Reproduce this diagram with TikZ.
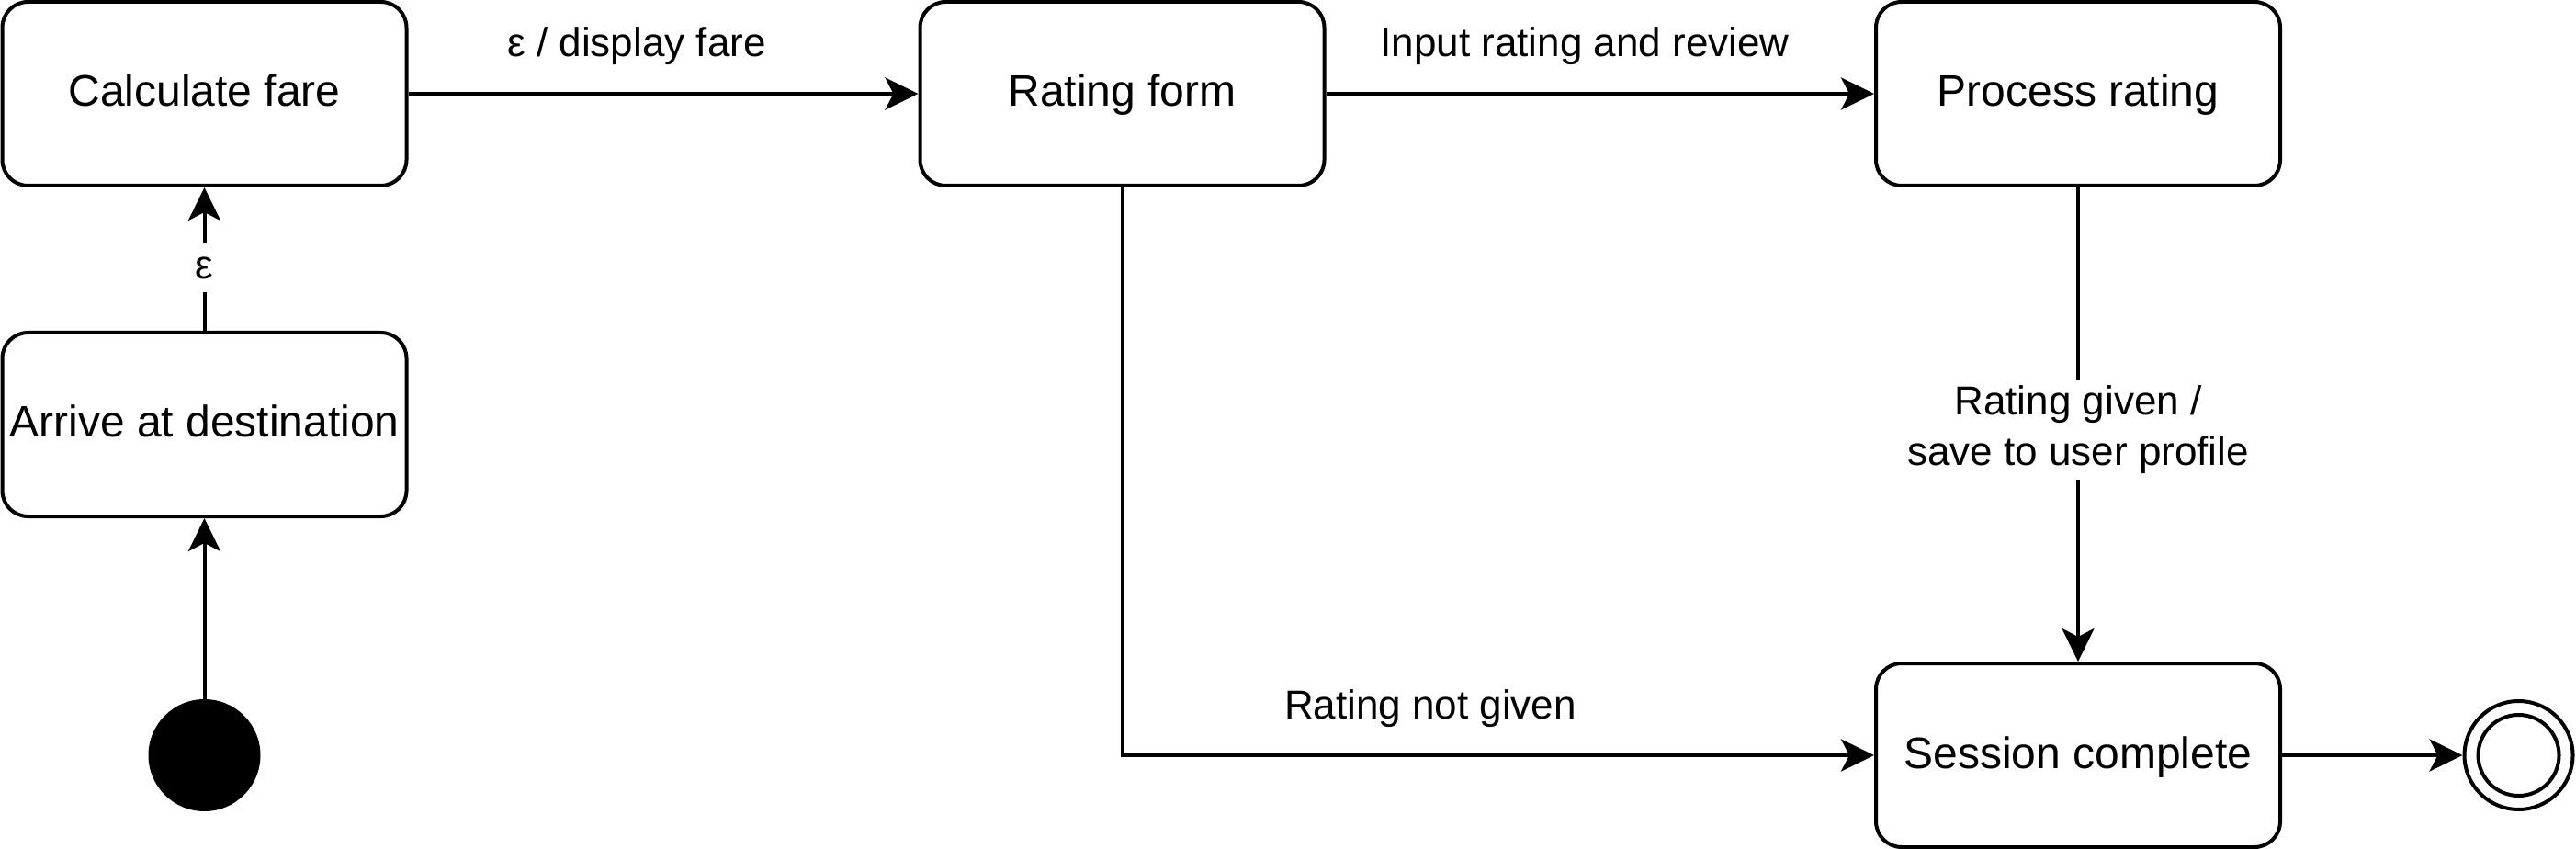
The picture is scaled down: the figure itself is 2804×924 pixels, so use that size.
\documentclass[tikz,border=0pt]{standalone}
\usepackage{fontspec}
\setmainfont{Liberation Sans}
\usetikzlibrary{arrows.meta}
\begin{document}
\begin{tikzpicture}[x=0.5pt,y=-0.5pt,
  state/.style={draw, line width=2pt, rounded corners=14pt, minimum width=220pt, minimum height=100pt, inner sep=0pt,
    font=\fontsize{24}{28}\selectfont, text height=19pt, text depth=5pt},
  lbl/.style={font=\fontsize{22}{27.5}\selectfont, inner sep=0pt},
  arr/.style={line width=2pt, -{Stealth[length=18pt,width=17.5pt,inset=4.5pt]}},
]
\useasboundingbox (0,0) rectangle (2804,924);
\node[state] (calc) at (222.5,102) {Calculate fare};
\node[state] (arrive) at (222.5,462) {Arrive at destination};
\node[state] (form) at (1221.5,102) {Rating form};
\node[state] (proc) at (2262,102) {Process rating};
\node[state] (sess) at (2262,822) {Session complete};
\node[circle, fill=black, minimum size=61pt, inner sep=0pt] (init) at (222.5,822) {};
\node[circle, draw, line width=2pt, minimum size=59pt, inner sep=0pt] (fin) at (2741.5,822) {};
\draw[line width=2pt] (fin.center) circle (22pt);

\draw[arr] (init) -- (arrive);
\draw[arr] (arrive) -- (calc);
\draw[arr] (calc) -- (form);
\draw[arr] (form) -- (proc);
\draw[arr] (proc) -- (sess);
\draw[arr] (form.south) |- (sess.west);
\draw[arr] (sess) -- (fin);

\node[lbl, anchor=base] (l1) at (693,62) {ε / display fare};
\node[lbl, anchor=base] (l2) at (1725,62) {Input rating and review};
\node[lbl, anchor=base] (l3) at (1557,782) {Rating not given};
\node[lbl, fill=white, minimum height=26.5pt] (l4) at (222.5,292) {ε};
\node[lbl, fill=white, align=center, minimum height=54pt] (l5) at (2262,468) {Rating given /\\save to user profile};
\end{tikzpicture}
\end{document}
